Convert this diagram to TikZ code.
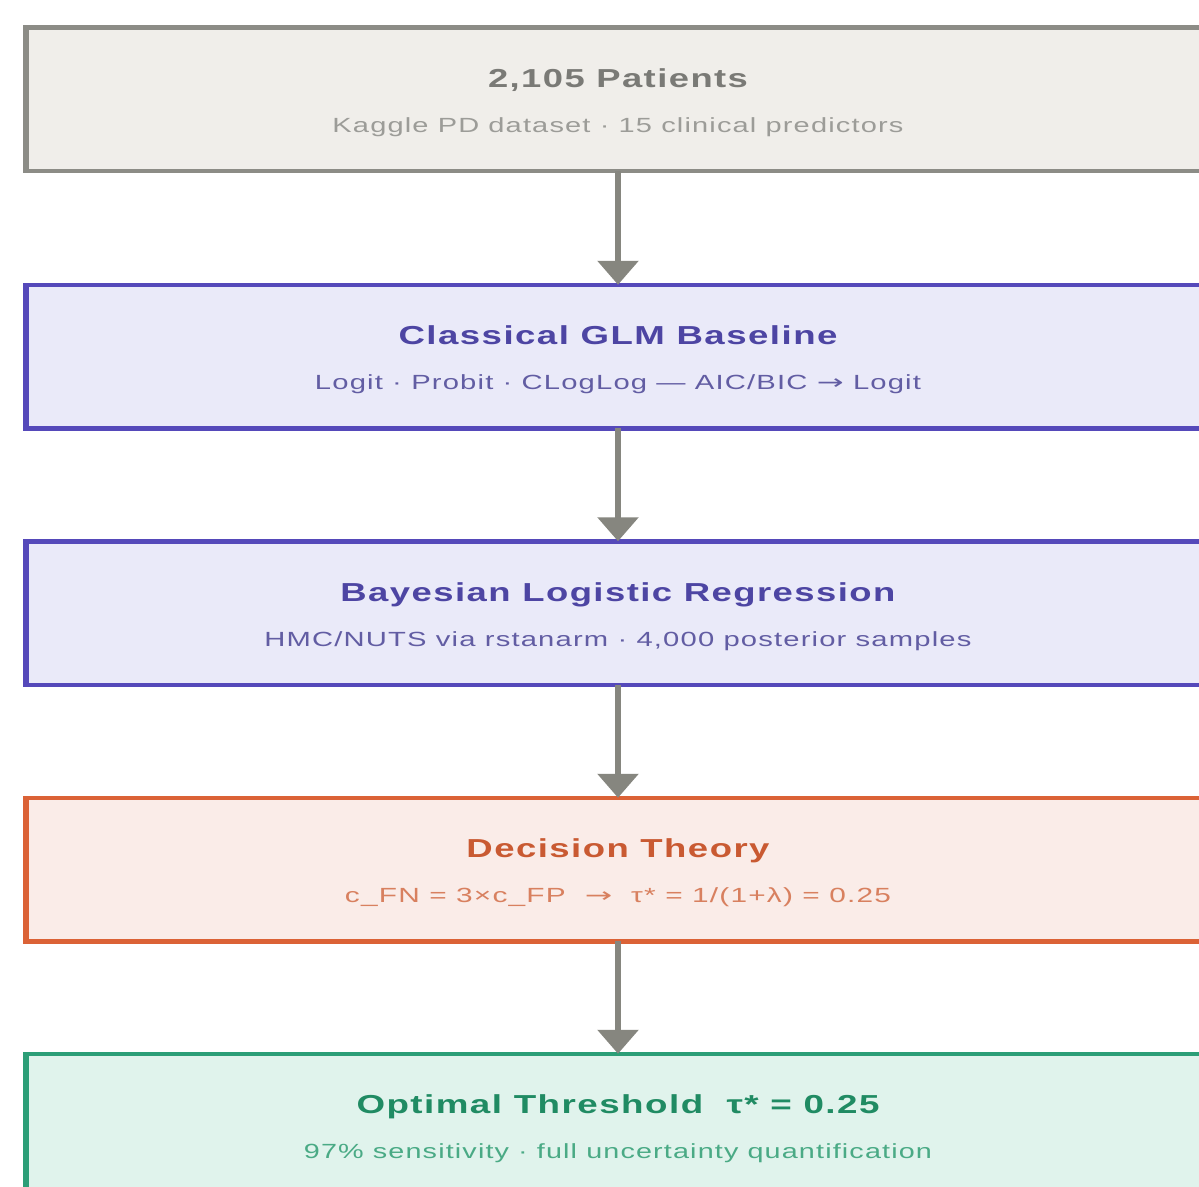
\documentclass[tikz,border=0pt]{standalone}
\usepackage{fontspec}
\usepackage{graphicx}
\setmainfont{Liberation Sans}
\newfontfamily\ttlfont{Liberation Sans}[LetterSpace=4]
\newfontfamily\subfont{Liberation Sans}[LetterSpace=4]
\newfontfamily\arrfont{DejaVu Sans}
\newcommand{\rarr}{{\arrfont\addfontfeature{FakeStretch=1.1}→}}
\usetikzlibrary{arrows.meta}
\definecolor{gbord}{HTML}{8C8C86}\definecolor{gfill}{HTML}{F0EEEA}
\definecolor{gttl}{HTML}{7A7A76}\definecolor{gsub}{HTML}{9C9C98}
\definecolor{ibord}{HTML}{5549BA}\definecolor{ifill}{HTML}{EAEAF9}
\definecolor{ittl}{HTML}{4D45A3}\definecolor{isub}{HTML}{625DA3}
\definecolor{obord}{HTML}{DB6236}\definecolor{ofill}{HTML}{FAECE8}
\definecolor{ottl}{HTML}{C95A32}\definecolor{osub}{HTML}{D8805F}
\definecolor{ebord}{HTML}{2C9E77}\definecolor{efill}{HTML}{E0F3EC}
\definecolor{ettl}{HTML}{208B63}\definecolor{esub}{HTML}{4AAA85}
\definecolor{arr}{HTML}{86867F}
\newcommand{\Ttl}[2]{\resizebox{#1pt}{\height}{\ttlfont\bfseries\fontsize{26}{30}\selectfont #2}}
\newcommand{\Sbt}[2]{\resizebox{#1pt}{\height}{\subfont\fontsize{20.5}{24}\selectfont #2}}
\tikzset{
  stage/.style={draw=#1bord, fill=#1fill, line width=4.5pt, rectangle,
    minimum width=1186pt, minimum height=143.5pt, inner sep=0pt, outer sep=0pt},
  ttlnode/.style={anchor=base, inner sep=0pt, text=#1ttl},
  subnode/.style={anchor=base, inner sep=0pt, text=#1sub},
  flow/.style={draw=arr, line width=6pt, -{Triangle[width=40pt,length=24pt]}},
}
\begin{document}
\begin{tikzpicture}[x=1pt,y=-1pt]
\useasboundingbox (0,0) rectangle (1199,1186);
\clip (0,0) rectangle (1199,1186);
\fill[white] (0,0) rectangle (1199,1186);
% boxes
\node[stage=g] (b1) at (618,99.25) {};
\node[stage=i] (b2) at (618,356.5) {};
\node[stage=i] (b3) at (618,613) {};
\node[stage=o] (b4) at (618,869.5) {};
\node[stage=e] (b5) at (618,1125.5) {};
% thicker left edges
\foreach \b/\c in {b1/gbord,b2/ibord,b3/ibord,b4/obord,b5/ebord}
  \draw[\c, line width=6.5pt] ([xshift=1pt]\b.north west) -- ([xshift=1pt]\b.south west);
% texts
\node[ttlnode=g] (t1) at ([yshift=-60pt]b1.north) {\Ttl{260}{2,105 Patients}};
\node[subnode=g] (s1) at ([yshift=-105pt]b1.north) {\Sbt{571}{Kaggle PD dataset · 15 clinical predictors}};
\node[ttlnode=i] (t2) at ([yshift=-60pt]b2.north) {\Ttl{439}{Classical GLM Baseline}};
\node[subnode=i] (s2) at ([yshift=-105pt]b2.north) {\Sbt{606}{Logit · Probit · CLogLog — AIC/BIC \rarr{} Logit}};
\node[ttlnode=i] (t3) at ([yshift=-60pt]b3.north) {\Ttl{555}{Bayesian Logistic Regression}};
\node[subnode=i] (s3) at ([yshift=-105pt]b3.north) {\Sbt{707}{HMC/NUTS via rstanarm · 4,000 posterior samples}};
\node[ttlnode=o] (t4) at ([yshift=-60pt]b4.north) {\Ttl{303}{Decision Theory}};
\node[subnode=o] (s4) at ([yshift=-105pt]b4.north) {\Sbt{546}{c\_FN = 3×c\_FP\ \ \rarr\ \ τ* = 1/(1+λ) = 0.25}};
\node[ttlnode=e] (t5) at ([yshift=-60pt]b5.north) {\Ttl{523}{Optimal Threshold\ \ τ* = 0.25}};
\node[subnode=e] (s5) at ([yshift=-105pt]b5.north) {\Sbt{628}{97\% sensitivity · full uncertainty quantification}};
% arrows
\draw[flow] (b1.south) -- (b2.north);
\draw[flow] (b2.south) -- (b3.north);
\draw[flow] (b3.south) -- (b4.north);
\draw[flow] (b4.south) -- (b5.north);
\end{tikzpicture}
\end{document}
